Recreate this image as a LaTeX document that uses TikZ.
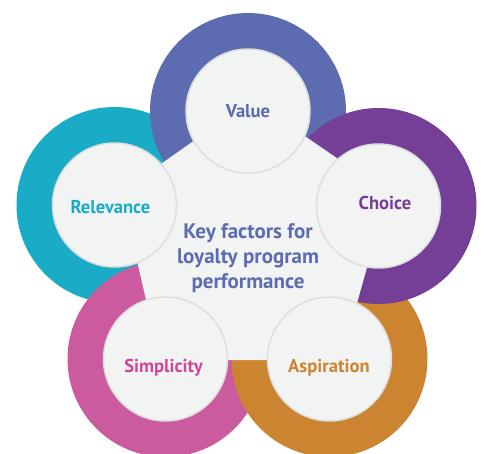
\documentclass[tikz,border=0pt]{standalone}
\usepackage{fontspec}
\setmainfont{PT Sans}
\definecolor{valuec}{HTML}{5D6BB0}
\definecolor{choicec}{HTML}{753F98}
\definecolor{aspc}{HTML}{CD8430}
\definecolor{simpc}{HTML}{CC5A9E}
\definecolor{simptext}{HTML}{D2459A}
\definecolor{relc}{HTML}{1AABC7}
\definecolor{bgc}{HTML}{F2F4F4}
\definecolor{rimc}{HTML}{DDDEDE}
\begin{document}
\begin{tikzpicture}[x=1pt,y=-1pt,
        disc/.style={circle,fill=bgc,draw=rimc,line width=1.5pt,minimum size=124pt,inner sep=0pt},
        lbl/.style={anchor=base,font=\fontsize{18.6}{20}\selectfont\bfseries}]
            \useasboundingbox (0,0) rectangle (484,454);
            \coordinate (cv) at (248,111);
            \coordinate (cc) at (378.5,206);
            \coordinate (ca) at (329.5,359);
            \coordinate (cs) at (165.5,359);
            \coordinate (cr) at (114.5,205);

            % Ringe, von unten nach oben
            \fill[relc] (cr) circle (98);
            \fill[simpc] (cs) circle (98);
            \fill[aspc] (ca) circle (98);
            \fill[valuec] (cv) circle (98);
            \fill[choicec] (cc) circle (98);

            \fill[bgc] (252,100) -- (388,193) -- (341,360) -- (160,360) -- (121,192) -- cycle;

            \node[disc] (value) at (cv) {};
            \node[disc] (choice) at (cc) {};
            \node[disc] (aspiration) at (ca) {};
            \node[disc] (simplicity) at (cs) {};
            \node[disc] (relevance) at (cr) {};

            \node[lbl,text=valuec] (valuet) at (248,117.3) {Value};
            \node[lbl,text=choicec] (choicet) at (385,210) {Choice};
            \node[lbl,text=aspc] (aspirationt) at (329,372.7) {Aspiration};
            \node[lbl,text=simptext] (simplicityt) at (163.5,372.7) {Simplicity};
            \node[lbl,text=relc] (relevancet) at (110.5,213.3) {Relevance};

            \node[align=center,text=valuec,font=\fontsize{21}{25}\selectfont\bfseries] (key) at (248,258) {Key factors for\\loyalty program\\performance};
\end{tikzpicture}
\end{document}
